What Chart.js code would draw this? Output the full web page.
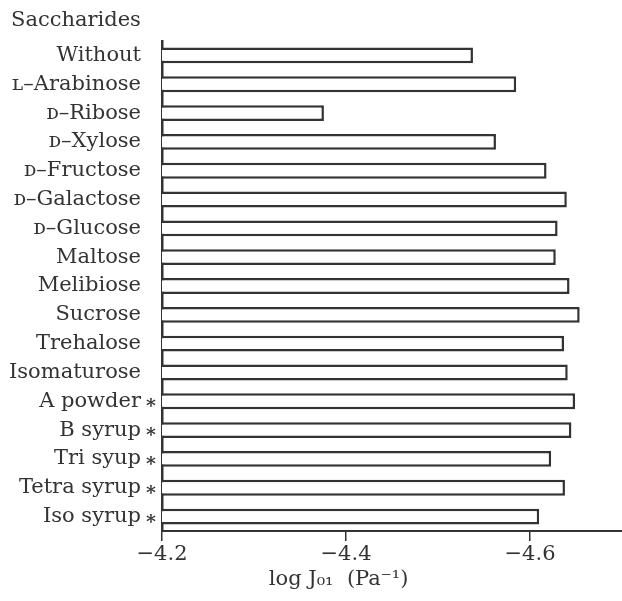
<!DOCTYPE html>
<html>
<head>
<meta charset="utf-8">
<script src="https://cdn.jsdelivr.net/npm/chart.js@4/dist/chart.umd.min.js"></script>
<style>
  html, body { margin: 0; padding: 0; background: #fff; }
  #wrap { width: 622px; height: 601px; position: relative; }
</style>
</head>
<body>
<div id="wrap"><canvas id="canvas"></canvas></div>
<script>
// saccharides, top to bottom
var saccharides = [
    'Without', 'ʟ–Arabinose', 'ᴅ–Ribose', 'ᴅ–Xylose', 'ᴅ–Fructose',
    'ᴅ–Galactose', 'ᴅ–Glucose', 'Maltose', 'Melibiose', 'Sucrose',
    'Trehalose', 'Isomaturose', 'A powder', 'B syrup', 'Tri syup',
    'Tetra syrup', 'Iso syrup'
];
// commercial products, marked with an asterisk
var starred = [false, false, false, false, false, false, false, false, false, false,
    false, false, true, true, true, true, true];
// log J01 (Pa^-1)
var logJ = [
    -4.538, -4.585, -4.376, -4.563, -4.618,
    -4.640, -4.630, -4.628, -4.643, -4.654,
    -4.637, -4.641, -4.649, -4.645, -4.623,
    -4.638, -4.610
];
var xTicks = [-4.2, -4.4, -4.6];

var ink = '#333333';
var serif = "'DejaVu Serif', 'Liberation Serif', serif";

var extras = {
    id: 'extras',
    afterDraw: function(chart) {
        var c = chart.ctx;
        var yScale = chart.scales.y;
        var xScale = chart.scales.x;
        c.save();
        c.fillStyle = ink;
        // header above the category labels
        c.font = '21px ' + serif;
        c.textAlign = 'left';
        c.textBaseline = 'middle';
        c.fillText('Saccharides', 11, 21);
        // asterisks next to the axis
        c.font = 'bold 19px ' + serif;
        c.textAlign = 'center';
        starred.forEach(function(s, i) {
            if (s) c.fillText('*', chart.chartArea.left - 11, yScale.getPixelForValue(i) + 6);
        });
        // axis title
        c.font = '21px ' + serif;
        c.textAlign = 'center';
        c.fillText('log J₀₁  (Pa⁻¹)', xScale.getPixelForValue(-4.392), 580);
        c.restore();
    }
};

try {
    var ctx = document.getElementById('canvas').getContext('2d');
    var myChart = new Chart(ctx, {
        type: 'bar',
        data: {
            labels: saccharides,
            datasets: [{
                data: logJ,
                backgroundColor: '#ffffff',
                borderColor: ink,
                borderWidth: 2.5,
                borderSkipped: false,
                inflateAmount: 0,
                barPercentage: 0.55,
                categoryPercentage: 1
            }]
        },
        plugins: [extras],
        options: {
            indexAxis: 'y',
            responsive: true,
            maintainAspectRatio: false,
            animation: false,
            layout: { padding: { top: 41, right: 0, left: 0, bottom: 0 } },
            plugins: {
                legend: { display: false },
                tooltip: { enabled: false }
            },
            scales: {
                x: {
                    type: 'linear',
                    reverse: true,
                    min: -4.70,
                    max: -4.2,
                    afterBuildTicks: function(scale) {
                        scale.ticks = xTicks.map(function(v) { return { value: v }; });
                    },
                    afterFit: function(scale) { scale.height = 70; },
                    grid: {
                        drawOnChartArea: false,
                        drawTicks: true,
                        tickLength: 10,
                        color: ink,
                        lineWidth: 1.5
                    },
                    border: { display: true, color: ink, width: 2 },
                    ticks: {
                        color: ink,
                        padding: 1,
                        font: { family: serif, size: 21 },
                        callback: function(v) { return '−' + Math.abs(v).toFixed(1); }
                    }
                },
                y: {
                    afterFit: function(scale) { scale.width = 162; },
                    grid: { display: false, drawTicks: false },
                    border: { display: true, color: ink, width: 2.5 },
                    ticks: {
                        color: ink,
                        padding: 21,
                        autoSkip: false,
                        font: { family: serif, size: 21 }
                    }
                }
            }
        }
    });
} catch (e) {
    console.log(e.message);
}
</script>
</body>
</html>
